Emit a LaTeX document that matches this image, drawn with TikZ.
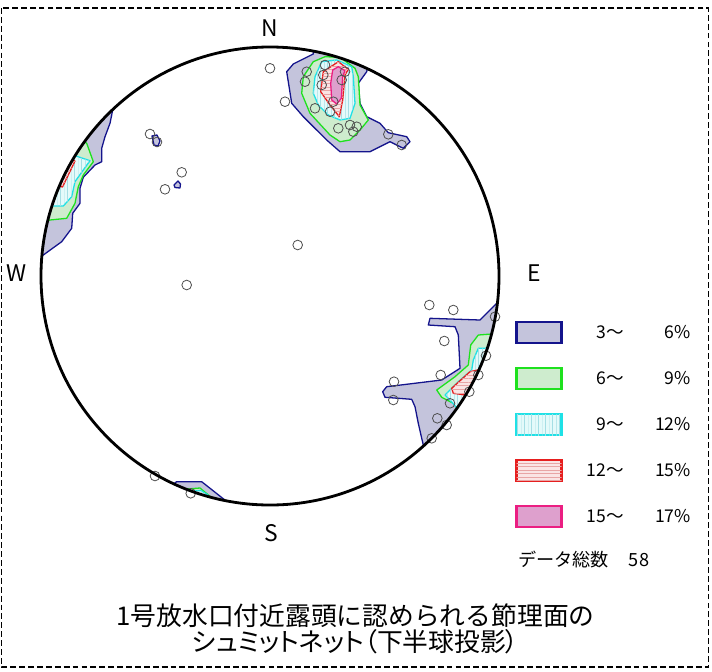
\documentclass[tikz,border=0pt]{standalone}
\usepackage{fontspec}
\setmainfont{Noto Sans CJK JP}
\newfontfamily\titlefont{Noto Sans CJK JP}[RawFeature=+palt]
\usepackage{tikz}
\usetikzlibrary{positioning,patterns}

\definecolor{blueline}{RGB}{20,20,140}
\definecolor{bluefill}{RGB}{196,196,220}
\definecolor{greenline}{RGB}{30,225,30}
\definecolor{greenfill}{RGB}{206,236,206}
\definecolor{cyanline}{RGB}{30,225,230}
\definecolor{cyanfill}{RGB}{228,250,250}
\definecolor{cyanhatch}{RGB}{165,222,228}
\definecolor{redline}{RGB}{230,30,30}
\definecolor{redfill}{RGB}{250,228,228}
\definecolor{redhatch}{RGB}{232,165,165}
\definecolor{magline}{RGB}{235,30,130}
\definecolor{magfill}{RGB}{222,160,205}
\definecolor{dotgray}{RGB}{80,80,80}

\begin{document}
\begin{tikzpicture}[
  x=0.03cm, y=-0.03cm,
  node distance=0.75cm,
  bluereg/.style={draw=blueline, fill=bluefill, line width=1.1pt, line join=round},
  greenreg/.style={draw=greenline, fill=greenfill, line width=1.1pt, line join=round},
  cyanreg/.style={draw=cyanline, fill=cyanfill, line width=1.1pt, line join=round,
    postaction={pattern=vertical lines, pattern color=cyanhatch}},
  redreg/.style={draw=redline, fill=redfill, line width=1.1pt, line join=round,
    postaction={pattern=horizontal lines, pattern color=redhatch}},
  magreg/.style={draw=magline, fill=magfill, line width=1.1pt, line join=round},
  dot/.style={draw=dotgray, line width=0.7pt},
  key/.style={line width=2pt, outer sep=0pt, minimum width=1.35cm, minimum height=0.63cm},
  lbl/.style={anchor=east, font=\fontsize{15}{18}\selectfont},
  dir/.style={font=\fontsize{19.5}{22}\selectfont}
]
\useasboundingbox (0,0) rectangle (712,671);

% Frame
\draw[dash pattern=on 5pt off 2.6pt, line width=0.9pt] (1.5,8) rectangle (708.5,667);

\coordinate (O) at (270,276);

% Contours
\begin{scope}
\clip (O) circle [radius=6.87cm];
% north
\draw[bluereg] (286.7,71.7) -- (293.3,64) -- (313.3,54) -- (313,44) -- (370,55) -- (366.7,71.7) -- (358.3,83.3) -- (360,103.3) -- (366.7,116.7) -- (380,123.3) -- (388.3,132.7) -- (406.7,136.7) -- (410,141.7) -- (403.3,148.3) -- (390,141.7) -- (370,151.7) -- (340,151.7) -- (326.7,140) -- (303.3,116.7) -- (291.7,103.3) -- cycle;
\draw[greenreg] (303.3,76.7) -- (313.3,61.7) -- (325,56.7) -- (340,57.3) -- (355,68.3) -- (358.3,76.7) -- (360,105) -- (368.3,120) -- (360,130) -- (350,140) -- (340,141.7) -- (330,135) -- (310,113.3) -- (301.7,93.3) -- cycle;
\draw[cyanreg] (315,76.7) -- (321.7,61.7) -- (336.7,60) -- (351.7,66.7) -- (353.3,76.7) -- (355,103.3) -- (350,118.3) -- (340,120) -- (328.3,115) -- (318.3,105) -- (313.3,93.3) -- cycle;
\draw[redreg] (323.3,71.7) -- (338.3,61.7) -- (348.3,69.3) -- (345,75) -- (342.7,100) -- (339.3,116.7) -- (330,105) -- (320.7,91.7) -- cycle;
\draw[magreg] (332.7,70) -- (338.3,66.7) -- (345,70.7) -- (342.7,76) -- (341.3,98.3) -- (336.7,104) -- (331.7,100) -- (330.7,83.3) -- cycle;
% west
\draw[bluereg] (113,108) -- (111.7,115) -- (110,123.3) -- (105,136.7) -- (101.7,148.3) -- (101.7,161.7) -- (95,165) -- (83.3,177.3) -- (80,188.3) -- (80,203.3) -- (72.7,213.3) -- (71.7,228.3) -- (61.7,241.7) -- (43.3,255) -- (35,262) -- (30,200) -- (60,150) -- (100,100) -- cycle;
\draw[greenreg] (82,140) -- (86.7,143.3) -- (93.3,161.7) -- (83.3,175) -- (78.3,186.7) -- (75,203.3) -- (66.7,218.3) -- (50,220) -- (44,221) -- (40,180) -- cycle;
\draw[cyanreg] (73,155) -- (90,160.7) -- (83.3,170) -- (75,181.7) -- (71.7,196.7) -- (63.3,206) -- (52,206) -- (45,206) -- (50,170) -- cycle;
\draw[redreg] (75,161) -- (62.5,187) -- (58,186) -- (71,159) -- cycle;
\draw[bluereg] (152,136) -- (157,135) -- (160,141) -- (158,146) -- (154,145) -- cycle;
\draw[bluereg] (174,185) -- (178,181) -- (180.5,184) -- (180,188) -- (175,187.5) -- cycle;
% east
\draw[bluereg] (500,300) -- (480,320) -- (430,318.3) -- (428.3,325) -- (455,326.7) -- (458.3,335) -- (460,368.3) -- (441.7,380) -- (386.7,386.7) -- (382.7,391.7) -- (385,397.3) -- (411.7,399.3) -- (415,406.7) -- (418.3,423.3) -- (421.7,438.3) -- (425,452) -- (460,470) -- (530,400) -- (520,295) -- cycle;
\draw[greenreg] (505,333) -- (478.3,335) -- (470.7,345) -- (468.3,365) -- (455,376.7) -- (436.7,390) -- (441.7,397.3) -- (453.3,403.3) -- (460,412) -- (515,380) -- cycle;
\draw[cyanreg] (492,348) -- (478.3,348.3) -- (473.3,360) -- (471.7,370) -- (458.3,381.7) -- (445,395) -- (450,400) -- (457,408) -- (460,412) -- (510,380) -- cycle;
\draw[redreg] (482,369) -- (470,371.7) -- (451.7,388.3) -- (453.3,393.3) -- (472,396) -- (500,380) -- cycle;
% south
\draw[bluereg] (173.3,484) -- (176.7,481.7) -- (201.7,481.7) -- (228.3,502.7) -- (230,515) -- (170,495) -- cycle;
\draw[greenreg] (187,489) -- (200,488) -- (212,498) -- (212,505) -- (185,495) -- cycle;
\draw[cyanreg] (194,491) -- (201,490.5) -- (208,495) -- (207,502) -- (194,500) -- cycle;
\end{scope}

% Data points
\foreach \px/\py in {270/68.3, 306.7/71.7, 305/81.7, 325/65, 323.3/75, 321.7/85, 341.7/80,
  345/71.7, 333.3/101.7, 285/101.7, 315/108.3, 330/111.7, 338.3/128.3, 350/125, 356.7/126.7,
  353.3/131.7, 388.3/134.3, 401.7/145,
  150/134, 157/142, 181.7/172.3, 165/189.3, 297.7/245, 186.7/285,
  429.3/305, 453.3/310, 495/316.7, 444.3/341, 486/355.7, 440.7/375, 394/381.7, 478.3/375,
  469.3/391.7, 393.3/400, 450/403.3, 437.3/418.3, 446.7/425, 431.7/438.3,
  155/476, 190.7/493.3}
  \draw[dot] (\px,\py) circle [radius=0.145cm];

% Net
\draw[line width=2.4pt] (O) circle [radius=6.87cm];

\node[dir] (north) at (270,28) {N};
\node[dir] (south) at (271,533) {S};
\node[dir] (west) at (17,273) {W};
\node[dir] (east) at (534,273) {E};

% Legend
\node[key, draw=blueline, fill=bluefill] (key1) at (539,332.5) {};
\node[key, below=of key1, draw=greenline, fill=greenfill] (key2) {};
\node[key, below=of key2, draw=cyanline, fill=cyanfill,
  postaction={pattern=vertical lines, pattern color=cyanhatch}] (key3) {};
\node[key, below=of key3, draw=redline, fill=redfill,
  postaction={pattern=horizontal lines, pattern color=redhatch}] (key4) {};
\node[key, below=of key4, draw=magline, fill=magfill] (key5) {};

\coordinate (colA) at (628,0);
\coordinate (colB) at (695,0);
\node[lbl] (from1) at (key1 -| colA) {3～};
\node[lbl] (to1) at (key1 -| colB) {6\%};
\node[lbl] (from2) at (key2 -| colA) {6～};
\node[lbl] (to2) at (key2 -| colB) {9\%};
\node[lbl] (from3) at (key3 -| colA) {9～};
\node[lbl] (to3) at (key3 -| colB) {12\%};
\node[lbl] (from4) at (key4 -| colA) {12～};
\node[lbl] (to4) at (key4 -| colB) {15\%};
\node[lbl] (from5) at (key5 -| colA) {15～};
\node[lbl] (to5) at (key5 -| colB) {17\%};

\node[anchor=west, font=\fontsize{15.5}{18}\selectfont] (total) at (514,560) {データ総数\hspace{0.6cm}58};

% Caption
\node[align=center, font=\fontsize{22}{22.5}\selectfont] (title) at (355.5,629) {1号放水口付近露頭に認められる節理面の\\{\titlefont シュミットネット（下半球投影）}};

\end{tikzpicture}
\end{document}
